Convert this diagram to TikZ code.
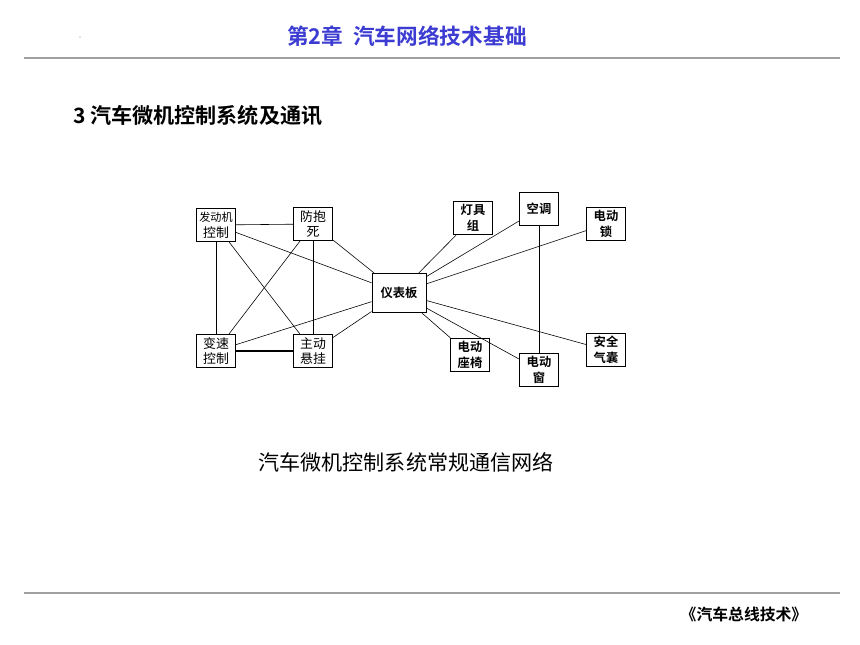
\documentclass[tikz,border=0pt]{standalone}
\usepackage{fontspec}
\setmainfont{Liberation Sans}
\newfontfamily\cjk[BoldFont={Noto Sans CJK SC Bold}]{Noto Sans CJK SC}
\definecolor{titleblue}{RGB}{60,60,210}
\definecolor{rulegray}{RGB}{160,160,160}

\begin{document}
\begin{tikzpicture}[x=0.03cm, y=-0.03cm,
    every node/.style={font=\cjk},
    unit/.style={draw, line width=0.8pt, fill=white, align=center,
      minimum width=1.18cm, minimum height=1cm, inner sep=0.5pt,
      font=\cjk\fontsize{11}{13.5}\selectfont},
    hub/.style={unit, font=\cjk\bfseries\fontsize{10.5}{13.5}\selectfont},
    link/.style={line width=0.5pt}]
    \useasboundingbox (0,0) rectangle (860,645);

    % Header
    \node[font=\cjk\bfseries\fontsize{18.5}{22}\selectfont, text=titleblue] (title) at (407,36) {第2章\ \ 汽车网络技术基础};
    \fill[gray] (80,37) circle (0.6);
    \draw[rulegray, line width=2pt] (24,58) -- (840,58);
    \node[font=\cjk\bfseries\fontsize{18}{21}\selectfont, anchor=west] (sec) at (69,116) {3 汽车微机控制系统及通讯};

    % Left group
    \node[unit] (eng) at (216,225) {\fontsize{9.5}{12.5}\selectfont 发动机\\控制};
    \node[unit] (abs) at (313,224) {防抱\\死};
    \node[unit] (gear) at (216,351) {变速\\控制};
    \node[unit] (susp) at (313,351) {主动\\悬挂};

    % Dashboard
    \node[hub, minimum width=1.62cm, minimum height=1.18cm] (dash) at (399,293) {仪表板};

    % Right group
    \node[hub] (lamp) at (473,218) {灯具\\组};
    \node[hub] (ac) at (539,209) {空调};
    \node[hub] (lock) at (606,224) {电动\\锁};
    \node[hub] (seat) at (470,355) {电动\\座椅};
    \node[hub] (win) at (539,370) {电动\\窗};
    \node[hub] (bag) at (606,350) {安全\\气囊};

    % Links
    \draw[link] (eng) -- (abs);
    \draw[link] (eng) -- (gear);
    \draw[link] (eng) -- (susp);
    \draw[link] (eng) -- (dash);
    \draw[link] (abs) -- (gear);
    \draw[link] (abs) -- (susp);
    \draw[link] (abs) -- (dash);
    \draw[line width=1.2pt] (gear) -- (susp);
    \draw[link] (gear) -- (dash);
    \draw[link] (susp) -- (dash);
    \draw[link] (dash) -- (lamp);
    \draw[link] (dash) -- (ac);
    \draw[link] (dash) -- (lock);
    \draw[link] (dash) -- (seat);
    \draw[link] (dash) -- (win);
    \draw[link] (dash) -- (bag);
    \draw[link] (ac) -- (win);

    % Caption
    \node[font=\cjk\fontsize{18}{21}\selectfont] (cap) at (406,462) {汽车微机控制系统常规通信网络};

    % Footer
    \draw[rulegray, line width=2pt] (24,593) -- (840,593);
    \node[font=\cjk\bfseries\fontsize{13.5}{16}\selectfont] (book) at (744,614) {《汽车总线技术》};
\end{tikzpicture}
\end{document}
